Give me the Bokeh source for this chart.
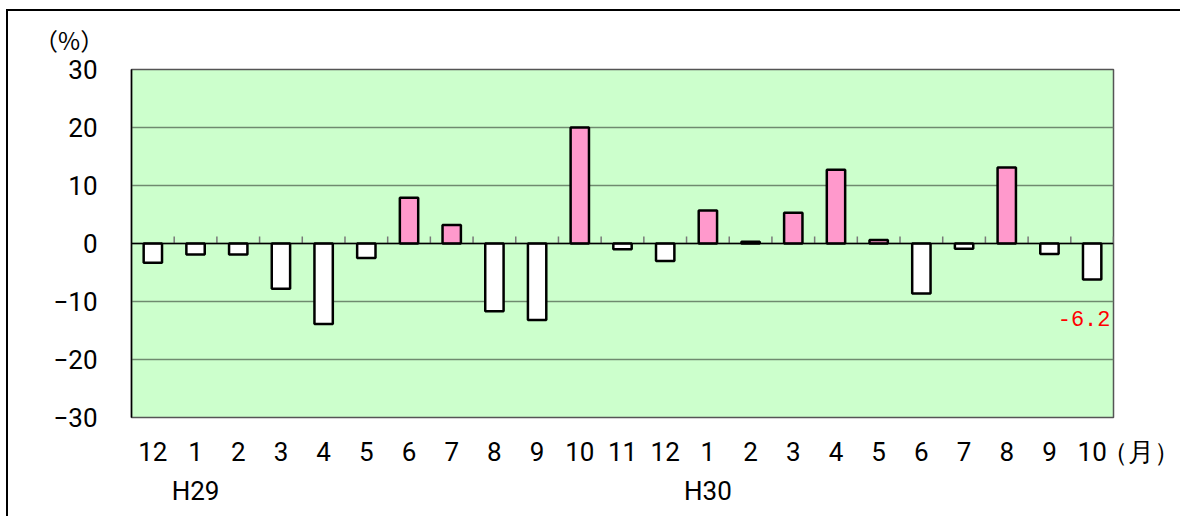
from bokeh.plotting import figure
from bokeh.models import ColumnDataSource, FixedTicker, Label, Span, Range1d, LinearAxis
from bokeh.embed import file_html
from bokeh.resources import INLINE

# ---- data ----
months = ["12", "1", "2", "3", "4", "5", "6", "7", "8", "9", "10", "11",
          "12", "1", "2", "3", "4", "5", "6", "7", "8", "9", "10"]
values = [-3.3, -1.9, -1.9, -7.8, -13.9, -2.5, 7.9, 3.2, -11.7, -13.2, 20.0, -1.0,
          -3.0, 5.7, 0.3, 5.3, 12.7, 0.6, -8.6, -0.9, 13.1, -1.8, -6.2]
year_labels = {1: "H29", 13: "H30"}
y_ticks = [-30, -20, -10, 0, 10, 20, 30]
y_unit = "（%）"
x_unit = "（月）"

FONT = "Roboto"
CJK = "Noto Sans CJK JP"
n = len(values)
xs = [i + 0.5 for i in range(n)]
colors = ["#FF99CC" if v > 0 else "#FFFFFF" for v in values]
src = ColumnDataSource(dict(x=xs, top=values, color=colors))

p = figure(width=1174, height=507, output_backend="svg", toolbar_location=None,
           x_range=Range1d(0, n), y_range=Range1d(-30, 30),
           min_border_left=123, min_border_right=69, min_border_top=58, min_border_bottom=101)
p.styles = {"border-top": "2px solid black", "border-left": "2px solid black",
            "margin-left": "6px", "margin-top": "9px"}

p.background_fill_color = "#CCFFCC"
p.border_fill_color = "white"
p.outline_line_color = "#555555"
p.outline_line_width = 1.5

p.xgrid.grid_line_color = None
p.ygrid.grid_line_color = "#6f8a6f"
p.ygrid.grid_line_width = 1.5
p.ygrid.ticker = FixedTicker(ticks=y_ticks)

xax = p.below[0]
yax = p.left[0]

# bars
p.vbar(x="x", top="top", bottom=0, width=0.43, fill_color="color",
       line_color="black", line_width=2.5, source=src)

# zero line and category ticks on it
p.add_layout(Span(location=0, dimension="width", line_color="black", line_width=1.5))
bounds = list(range(1, n + 1))
p.segment(x0=bounds, y0=[0] * n, x1=bounds, y1=[1.2] * n, line_color="#777777", line_width=1.5)

# y axis
yax.ticker = FixedTicker(ticks=y_ticks)
yax.major_label_overrides = {t: (str(t).replace("-", "−")) for t in y_ticks}
yax.major_tick_in = 0
yax.major_tick_out = 0
yax.minor_tick_line_color = None
yax.axis_line_color = "black"
yax.axis_line_width = 1.5
yax.major_label_standoff = 34
yax.major_label_text_font = FONT
yax.major_label_text_font_size = "26px"
yax.major_label_text_color = "black"

# x axis (months) + unit label at the right end
xax.ticker = FixedTicker(ticks=xs + [n])
overrides = {x: m for x, m in zip(xs, months)}
overrides[n] = "\u3000\u3000\u2002\u2002\u2002" + x_unit
xax.major_label_overrides = overrides
xax.axis_line_color = None
xax.major_tick_line_color = None
xax.minor_tick_line_color = None
xax.major_label_standoff = 13
xax.major_label_text_font = FONT
xax.major_label_text_font_size = "26px"
xax.major_label_text_color = "black"

# second x axis (years)
yr_ticks = [k + 0.5 for k in year_labels]
yr_ax = LinearAxis(ticker=FixedTicker(ticks=yr_ticks),
                   major_label_overrides={k + 0.5: v for k, v in year_labels.items()},
                   axis_line_color=None, major_tick_line_color=None, minor_tick_line_color=None,
                   major_label_standoff=0, major_label_text_font=FONT,
                   major_label_text_font_size="26px", major_label_text_color="black")
p.add_layout(yr_ax, "below")

# y unit label: a top axis with one label at the left edge, padded to sit left of the frame
top_ax = LinearAxis(ticker=FixedTicker(ticks=[0]),
                    major_label_overrides={0: y_unit + "\u3000" * 5 + "\u2002\u2009"},
                    axis_line_color=None, major_tick_line_color=None, minor_tick_line_color=None,
                    major_label_standoff=7, major_label_text_font=CJK,
                    major_label_text_font_size="24px", major_label_text_color="black")
p.add_layout(top_ax, "above")

# data label for the latest value
p.add_layout(Label(x=22.93, y=-12.9, text=f"{values[-1]:.1f}", text_align="right",
                   text_baseline="middle", text_font="Liberation Mono",
                   text_font_size="22px", text_color="red"))

open("out.html", "w").write(file_html(p, INLINE))
